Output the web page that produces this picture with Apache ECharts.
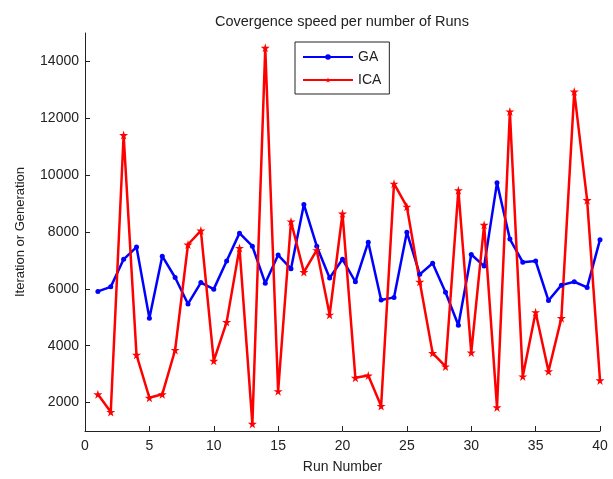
<!DOCTYPE html>
<html>
<head>
<meta charset="utf-8">
<script src="https://cdn.jsdelivr.net/npm/echarts@6/dist/echarts.min.js"></script>
<style>
  html, body { margin: 0; padding: 0; background: #fff; }
  #main { width: 613px; height: 479px; }
</style>
</head>
<body>
<div id="main"></div>
<script>
// run numbers 1..40
var runs = [1,2,3,4,5,6,7,8,9,10,11,12,13,14,15,16,17,18,19,20,
            21,22,23,24,25,26,27,28,29,30,31,32,33,34,35,36,37,38,39,40];
// GA iterations
var gaValues = [5910,6070,7040,7470,4970,7150,6400,5470,6220,5990,
                6980,7960,7500,6200,7190,6710,8970,7500,6380,7040,
                6250,7640,5610,5700,7990,6510,6900,5880,4720,7210,
                6800,9730,7750,6940,6980,5590,6130,6250,6050,7730];
// ICA iterations
var icaValues = [2290,1670,11410,3680,2170,2290,3850,7560,8050,3470,
                 4830,7440,1250,14480,2400,8370,6590,7360,5090,8650,
                 2870,2950,1880,9700,8890,6250,3740,3270,9470,3760,
                 8250,1830,12240,2920,5180,3100,4970,12940,9120,2780];
var yTicks = [2000,4000,6000,8000,10000,12000,14000];

var star = 'path://M50,0 L61,35 L98,35 L68,57 L79,91 L50,70 L21,91 L32,57 L2,35 L39,35 Z';
var font = 'Liberation Sans, Arial, sans-serif';
var ink = '#222';

function pairs(vals) {
  return runs.map(function (r, i) { return [r, vals[i]]; });
}

var chart = echarts.init(document.getElementById('main'), null, { renderer: 'canvas' });

chart.setOption({
  backgroundColor: '#fff',
  animation: false,
  title: {
    text: 'Covergence speed per number of Runs',
    left: 210,
    top: 9,
    textStyle: { fontFamily: font, fontSize: 14.5, fontWeight: 'normal', color: ink }
  },
  legend: {
    orient: 'vertical',
    left: 295,
    top: 42,
    padding: [8, 8, 7, 7],
    itemWidth: 50,
    itemHeight: 7,
    itemGap: 9,
    borderColor: ink,
    borderWidth: 1,
    textStyle: { fontFamily: font, fontSize: 14, color: ink },
    data: ['GA', 'ICA']
  },
  grid: { left: 85, right: 13, top: 33, bottom: 44 },
  xAxis: {
    type: 'value',
    min: 0, max: 40, interval: 5,
    name: 'Run Number',
    nameLocation: 'middle',
    nameGap: 29,
    nameTextStyle: { fontFamily: font, fontSize: 14, color: ink },
    axisLine: { onZero: false, lineStyle: { color: ink, width: 1 } },
    axisTick: { inside: true, length: 5, lineStyle: { color: ink } },
    axisLabel: { fontFamily: font, fontSize: 14, color: ink, margin: 8 },
    splitLine: { show: false }
  },
  yAxis: {
    type: 'value',
    min: 1000, max: 15000,
    name: 'Iteration or Generation',
    nameLocation: 'middle',
    nameGap: 58,
    nameTextStyle: { fontFamily: font, fontSize: 13, color: ink },
    axisLine: { show: true, lineStyle: { color: ink, width: 1 } },
    axisTick: { inside: true, length: 5, customValues: yTicks, lineStyle: { color: ink } },
    axisLabel: {
      fontFamily: font, fontSize: 14, color: ink, margin: 6,
      customValues: yTicks,
      formatter: function (v) { return String(v); }
    },
    splitLine: { show: false }
  },
  series: [
    {
      name: 'GA',
      type: 'line',
      data: pairs(gaValues),
      symbol: 'circle',
      symbolSize: 5,
      color: '#0000ff',
      lineStyle: { color: '#0000ff', width: 2.5 },
      itemStyle: { color: '#0000ff' }
    },
    {
      name: 'ICA',
      type: 'line',
      data: pairs(icaValues),
      symbol: star,
      symbolSize: 9,
      color: '#ff0000',
      lineStyle: { color: '#ff0000', width: 2.5 },
      itemStyle: { color: '#ff0000' }
    }
  ]
});
</script>
</body>
</html>
